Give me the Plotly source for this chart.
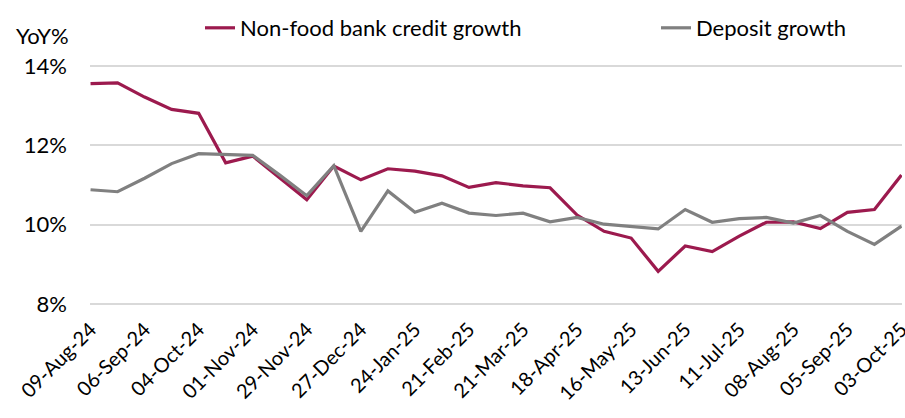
import plotly.graph_objects as go

dates = ["09-Aug-24", "23-Aug-24", "06-Sep-24", "20-Sep-24", "04-Oct-24", "18-Oct-24",
         "01-Nov-24", "15-Nov-24", "29-Nov-24", "13-Dec-24", "27-Dec-24", "10-Jan-25",
         "24-Jan-25", "07-Feb-25", "21-Feb-25", "07-Mar-25", "21-Mar-25", "04-Apr-25",
         "18-Apr-25", "02-May-25", "16-May-25", "30-May-25", "13-Jun-25", "27-Jun-25",
         "11-Jul-25", "25-Jul-25", "08-Aug-25", "22-Aug-25", "05-Sep-25", "19-Sep-25",
         "03-Oct-25"]

credit_growth = [13.56, 13.58, 13.22, 12.91, 12.81, 11.56, 11.73, 11.17, 10.63, 11.48,
                 11.13, 11.41, 11.35, 11.23, 10.94, 11.06, 10.98, 10.93, 10.24, 9.83,
                 9.66, 8.82, 9.46, 9.32, 9.71, 10.06, 10.07, 9.90, 10.31, 10.38, 11.25]

deposit_growth = [10.88, 10.83, 11.17, 11.54, 11.79, 11.76, 11.75, 11.25, 10.73, 11.49,
                  9.83, 10.85, 10.31, 10.54, 10.29, 10.23, 10.29, 10.07, 10.18, 10.01,
                  9.96, 9.89, 10.38, 10.06, 10.15, 10.18, 10.04, 10.23, 9.83, 9.50, 9.96]

y_ticks = [8, 10, 12, 14]
x_idx = list(range(len(dates)))
tick_idx = x_idx[::2]
tick_text = dates[::2]

RED = "#9C1A4E"
GRAY = "#808080"
FONT = "Lato"

fig = go.Figure()
fig.add_trace(go.Scatter(x=x_idx, y=credit_growth, mode="lines",
                         name="Non-food bank credit growth", legend="legend",
                         line=dict(color=RED, width=3.2)))
fig.add_trace(go.Scatter(x=x_idx, y=deposit_growth, mode="lines",
                         name="Deposit growth", legend="legend2",
                         line=dict(color=GRAY, width=3.2)))

leg_common = dict(orientation="h", xref="container", yref="container",
                  xanchor="left", yanchor="middle", y=0.933,
                  font=dict(family=FONT, size=22, color="#000000"),
                  bgcolor="rgba(0,0,0,0)", borderwidth=0)

fig.update_layout(
    width=905, height=418,
    margin=dict(l=90, r=3, t=65, b=113, autoexpand=False),
    paper_bgcolor="white", plot_bgcolor="white",
    font=dict(family=FONT, size=22, color="#000000"),
    showlegend=True,
    legend=dict(x=200 / 905, **leg_common),
    legend2=dict(x=656 / 905, **leg_common),
    annotations=[dict(text="YoY%", xref="paper", yref="paper", x=-0.059, y=1.125,
                      xanchor="center", yanchor="middle", showarrow=False,
                      font=dict(family=FONT, size=22, color="#000000"))],
)
fig.update_xaxes(range=[-0.02, len(dates) - 1 + 0.02], tickmode="array", tickvals=tick_idx,
                 ticktext=tick_text, tickangle=-45, showgrid=False, zeroline=False,
                 showline=False, ticks="", ticklabeloverflow="allow",
                 ticklabelstandoff=8, tickfont=dict(family=FONT, size=20))
fig.update_yaxes(range=[7.97, 14.03], tickmode="array", tickvals=y_ticks,
                 ticktext=[f"{v}%" for v in y_ticks], showgrid=True,
                 gridcolor="#D9D9D9", gridwidth=1.5, zeroline=False, showline=False,
                 ticks="", ticklabelstandoff=22, tickfont=dict(family=FONT, size=22))

fig.write_html("out.html")
